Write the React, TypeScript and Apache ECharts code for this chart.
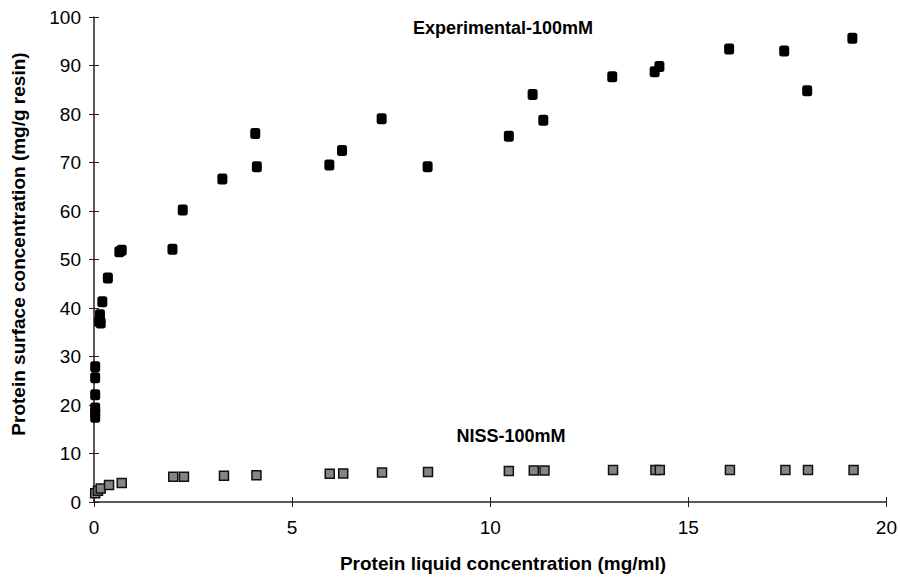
import React, { useEffect, useRef } from "react";
import * as echarts from "echarts";

const xTicks = [0, 5, 10, 15, 20];
const yTicks = [0, 10, 20, 30, 40, 50, 60, 70, 80, 90, 100];

const expX = [0.03, 0.03, 0.03, 0.03, 0.03, 0.03, 0.13, 0.15, 0.17, 0.21, 0.35, 0.64, 0.7, 1.98, 2.24, 3.24, 4.07, 4.11, 5.94, 6.26, 7.26, 8.42, 10.47, 11.07, 11.34, 13.08, 14.15, 14.27, 16.03, 17.42, 18.0, 19.14];
const expY = [17.5, 18.4, 19.4, 22.1, 25.6, 27.9, 37.2, 38.6, 36.9, 41.3, 46.2, 51.6, 51.9, 52.1, 60.2, 66.6, 76.0, 69.1, 69.5, 72.5, 79.0, 69.1, 75.4, 84.0, 78.7, 87.7, 88.7, 89.8, 93.4, 93.0, 84.8, 95.6];

const nissX = [0.03, 0.1, 0.17, 0.38, 0.7, 2.0, 2.27, 3.28, 4.1, 5.95, 6.29, 7.27, 8.43, 10.47, 11.1, 11.37, 13.1, 14.17, 14.28, 16.05, 17.45, 18.02, 19.17];
const nissY = [1.8, 2.3, 2.8, 3.5, 3.9, 5.2, 5.2, 5.4, 5.5, 5.8, 5.9, 6.1, 6.2, 6.4, 6.5, 6.5, 6.6, 6.6, 6.6, 6.6, 6.6, 6.6, 6.6];

const FONT = "'Liberation Sans', Arial, Helvetica, sans-serif";

export default function App() {
  const ref = useRef<HTMLDivElement>(null);
  useEffect(() => {
    if (!ref.current) return;
    const chart = echarts.init(ref.current, null, { renderer: "svg" });
    const axisLine = { show: true, lineStyle: { color: "#222", width: 1.5 } };
    chart.setOption({
      animation: false,
      backgroundColor: "#fff",
      grid: { left: 94, right: 13, top: 17, bottom: 75, containLabel: false },
      xAxis: [
        {
          type: "value",
          min: xTicks[0],
          max: xTicks[xTicks.length - 1],
          interval: 5,
          axisLine,
          axisTick: { show: true, inside: false, length: 5, lineStyle: { color: "#222", width: 1 } },
          axisLabel: { color: "#000", fontSize: 19, fontFamily: FONT, margin: 16 },
          splitLine: { show: false },
        },
        {
          type: "value",
          position: "bottom",
          min: xTicks[0],
          max: xTicks[xTicks.length - 1],
          interval: 5,
          axisLine: { show: false },
          axisTick: { show: true, inside: true, length: 5, lineStyle: { color: "#222", width: 1 } },
          axisLabel: { show: false },
          splitLine: { show: false },
        },
      ],
      yAxis: [
        {
          type: "value",
          min: yTicks[0],
          max: yTicks[yTicks.length - 1],
          interval: 10,
          axisLine,
          axisTick: { show: true, inside: false, length: 5, lineStyle: { color: "#222", width: 1 } },
          axisLabel: { color: "#000", fontSize: 19, fontFamily: FONT, margin: 13 },
          splitLine: { show: false },
        },
        {
          type: "value",
          position: "left",
          min: yTicks[0],
          max: yTicks[yTicks.length - 1],
          interval: 10,
          axisLine: { show: false },
          axisTick: { show: true, inside: true, length: 5, lineStyle: { color: "#222", width: 1 } },
          axisLabel: { show: false },
          splitLine: { show: false },
        },
      ],
      series: [
        {
          name: "NISS-100mM",
          type: "scatter",
          symbol: "rect",
          symbolSize: 9,
          itemStyle: { color: "#858585", borderColor: "#111", borderWidth: 1.5, opacity: 1 },
          data: nissX.map((x, i) => [x, nissY[i]]),
          z: 2,
        },
        {
          name: "Experimental-100mM",
          type: "scatter",
          symbol: "roundRect",
          symbolSize: [10, 11],
          itemStyle: { color: "#000", opacity: 1 },
          data: expX.map((x, i) => [x, expY[i]]),
          z: 3,
        },
      ],
      graphic: [
        {
          type: "text",
          x: 503,
          y: 28,
          style: { text: "Experimental-100mM", font: `bold 18px ${FONT}`, fill: "#000", align: "center", verticalAlign: "middle" },
        },
        {
          type: "text",
          x: 511,
          y: 436,
          style: { text: "NISS-100mM", font: `bold 18px ${FONT}`, fill: "#000", align: "center", verticalAlign: "middle" },
        },
        {
          type: "text",
          x: 503,
          y: 563,
          style: { text: "Protein liquid concentration (mg/ml)", font: `bold 19px ${FONT}`, fill: "#000", align: "center", verticalAlign: "middle" },
        },
        {
          type: "text",
          x: 18,
          y: 244,
          rotation: Math.PI / 2,
          style: { text: "Protein surface concentration (mg/g resin)", font: `bold 19px ${FONT}`, fill: "#000", align: "center", verticalAlign: "middle" },
        },
      ],
    });
    return () => chart.dispose();
  }, []);
  return <div ref={ref} style={{ position: "absolute", left: 0, top: 0, width: 900, height: 577 }} />;
}
